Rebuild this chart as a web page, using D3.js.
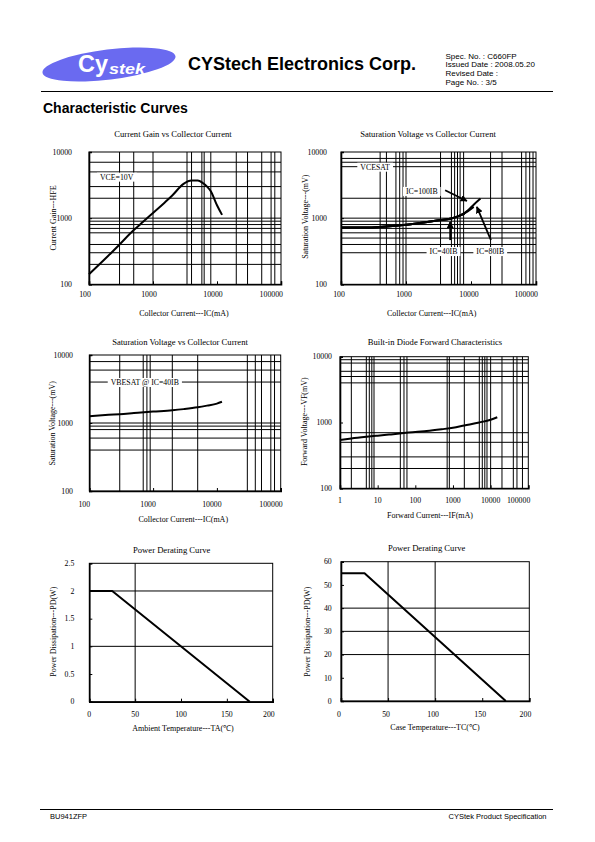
<!DOCTYPE html>
<html><head><meta charset="utf-8">
<script src="https://cdn.jsdelivr.net/npm/d3@7"></script>
<style>body{margin:0;background:#fff}svg{display:block}</style>
</head><body>
<script>
// ---------------- DATA ----------------
// Chart 1: Current Gain vs Collector Current (VCE=10V)
const gainIC  = [100,200,300,500,700,1000,1500,2000,3000,4000,5000,6000,7000,8000,10000,12000];
const gainHFE = [142,270,400,660,880,1200,1700,2200,3300,3700,3700,3400,3000,2550,1570,1120];

// Chart 2: VCE(sat) vs IC
const sat40IC  = [100,200,300,500,1000,2000,3000,5000,7000,8000];
const sat40V   = [720,720,725,745,795,870,920,990,1110,1170];
const sat80IC  = [100,200,300,500,1000,2000,3000,5000,7000,9000,11000];
const sat80V   = [720,720,725,745,795,870,920,990,1110,1280,1480];
const sat100IC = [100,200,300,500,1000,2000,3000,5000,7000,9000,11000,14000];
const sat100V  = [720,720,725,745,795,870,920,990,1110,1320,1600,1980];

// Chart 3: VBE(sat) @ IC=40IB
const vbeIC = [100,200,300,500,1000,2000,3000,5000,7000,10000,12000];
const vbeV  = [1260,1320,1350,1400,1470,1540,1600,1700,1800,1930,2050];

// Chart 4: Built-in diode forward characteristics
const diodeIF = [1,2,5,10,20,50,100,200,500,1000,2000,5000,10000,15000];
const diodeVF = [540,570,605,630,655,690,720,745,790,830,900,1000,1100,1200];

// Chart 5/6: Power derating
const taTemp = [0,25,175];
const taPD   = [2,2,0];
const tcTemp = [0,25,175];
const tcPD   = [55,55,0];

// Tick values / labels
const logTicks3 = [100,1000,10000,100000];
const logTicks5 = [1,10,100,1000,10000,100000];
const logYTicks = [100,1000,10000];
const tempTicks = [0,50,100,150,200];
const pdTaTicks = [0,0.5,1,1.5,2,2.5];
const pdTcTicks = [0,10,20,30,40,50,60];

// Gridlines (as seen in the reference)
const grid1X = [300,500,1000,3400,4000,5800,6300,8000,20000,30000,50000,70000,80000];
const grid1Y = [200,300,400,600,700,800,900,1000,2000,3000,5000,7000];
const grid2X = [400,500,700,800,900,1000,3400,5000,5600,6200,6800,7700,20000,30000,60000,70000,80000,90000];
const grid2Y = [300,400,500,600,700,800,900,1000,2000,6000,7000,8000];
const grid3X = [300,700,800,900,2000,5000,30000,40000,50000,70000,80000];
const grid3Y = [400,600,800,900,1000,4000,6000,8000];
const grid4X = [2,5,6,7,8,40,50,60,700,800,2000,5000,6000,7000,8000,10000,20000,40000,50000,70000];
const grid4Y = [200,300,500,700,4000,5000,6000,8000,9000];
const grid5X = [50];
const grid5Y = [1,2];
const grid6X = [50,100];
const grid6Y = [20,30,40];

// Annotations (data coordinates)
const notes1 = [{t:"VCE=10V", x:271, y:4200}];
const notes2 = [{t:"VCESAT", x:334, y:5940},{t:"IC=100IB", x:1750, y:2555},{t:"IC=40IB", x:3770, y:315},{t:"IC=80IB", x:19770, y:315}];
const arrows2 = [{x1:4000,y1:2640,x2:8650,y2:1820},{x1:4780,y1:466,x2:4780,y2:880},{x1:20270,y1:466,x2:12300,y2:1480}];
const notes3 = [{t:"VBESAT @ IC=40IB", x:742, y:3970}];

// ---------------- DRAW ----------------
const SERIF = '"Liberation Serif","Times New Roman",serif';
const SANS = '"Liberation Sans",Arial,sans-serif';
const svg = d3.select('body').append('svg').attr('width',595).attr('height',842);

const defs = svg.append('defs');
defs.append('marker').attr('id','arr').attr('viewBox','0 0 10 10').attr('refX',9).attr('refY',5)
  .attr('markerWidth',7).attr('markerHeight',7).attr('markerUnits','userSpaceOnUse').attr('orient','auto')
  .append('path').attr('d','M0,0L10,5L0,10z').attr('fill','#000');

// Header
svg.append('ellipse').attr('cx',109).attr('cy',64.5).attr('rx',67).attr('ry',15)
  .attr('transform','rotate(-7,109,64.5)').attr('fill','#6a6af0');
svg.append('text').attr('x',78).attr('y',72).attr('fill','#fff').attr('font-family',SANS)
  .attr('font-weight','bold').attr('font-size',23).attr('textLength',30).attr('lengthAdjust','spacingAndGlyphs').text('Cy');
svg.append('text').attr('x',109).attr('y',74).attr('fill','#fff').attr('font-family',SANS)
  .attr('font-weight','bold').attr('font-style','italic').attr('font-size',14).attr('textLength',36).attr('lengthAdjust','spacingAndGlyphs').text('stek');
svg.append('text').attr('x',188).attr('y',69.5).attr('font-family',SANS).attr('font-weight','bold')
  .attr('font-size',18).text('CYStech Electronics Corp.');
const spec = ['Spec. No. : C660FP','Issued Date : 2008.05.20','Revised Date :','Page No. : 3/5'];
svg.selectAll('.spec').data(spec).join('text').attr('x',445.5).attr('y',(d,i)=>58.5+i*8.8)
  .attr('font-family',SANS).attr('font-size',8).text(d=>d);
svg.append('line').attr('x1',41).attr('x2',553).attr('y1',91.5).attr('y2',91.5).attr('stroke','#000').attr('stroke-width',1);
svg.append('text').attr('x',43).attr('y',112.5).attr('font-family',SANS).attr('font-weight','bold')
  .attr('font-size',14).text('Characteristic Curves');

// Footer
svg.append('line').attr('x1',40).attr('x2',553).attr('y1',809.5).attr('y2',809.5).attr('stroke','#000').attr('stroke-width',1);
svg.append('text').attr('x',50).attr('y',818.5).attr('font-family',SANS).attr('font-size',7.5).text('BU941ZFP');
svg.append('text').attr('x',546.5).attr('y',818.5).attr('text-anchor','end').attr('font-family',SANS).attr('font-size',7.5).text('CYStek Product Specification');

function fmt(d){ return String(d); }

function chart(c){
  const g = svg.append('g');
  const x = (c.xLog ? d3.scaleLog() : d3.scaleLinear()).domain(c.xDomain).range([c.x0,c.x1]);
  const y = (c.yLog ? d3.scaleLog() : d3.scaleLinear()).domain(c.yDomain).range([c.y1,c.y0]);
  // grid
  g.selectAll('.gx').data(c.xGrid).join('line')
    .attr('x1',d=>x(d)).attr('x2',d=>x(d)).attr('y1',c.y0).attr('y2',c.y1)
    .attr('stroke','#000').attr('stroke-width',1);
  g.selectAll('.gy').data(c.yGrid).join('line')
    .attr('y1',d=>y(d)).attr('y2',d=>y(d)).attr('x1',c.x0).attr('x2',c.x1)
    .attr('stroke','#000').attr('stroke-width',1);
  // frame
  g.append('rect').attr('x',c.x0).attr('y',c.y0).attr('width',c.x1-c.x0).attr('height',c.y1-c.y0)
    .attr('fill','none').attr('stroke','#000').attr('stroke-width',1);
  // axes with inside ticks
  g.append('g').attr('transform',`translate(0,${c.y1})`)
    .call(d3.axisBottom(x).tickValues(c.xTicks).tickSize(-3).tickFormat(''))
    .call(a=>{a.select('.domain').attr('stroke-width',1.6);});
  g.append('g').attr('transform',`translate(${c.x0},0)`)
    .call(d3.axisLeft(y).tickValues(c.yTicks).tickSize(-3).tickFormat(''))
    .call(a=>{a.select('.domain').attr('stroke-width',1.6);});
  // tick labels
  const n = c.xTicks.length;
  g.selectAll('.xl').data(c.xTicks).join('text')
    .attr('x',(d,i)=> i===n-1 ? c.x1+2 : x(d)+c.xDx)
    .attr('y',c.xLabelY).attr('dy','0.35em')
    .attr('text-anchor',(d,i)=> i===n-1 ? 'end':'middle')
    .attr('font-family',SERIF).attr('font-size',7.8).text(fmt);
  g.selectAll('.yl').data(c.yTicks).join('text')
    .attr('x',c.yLabelX).attr('y',d=>y(d)).attr('dy','0.35em').attr('text-anchor','end')
    .attr('font-family',SERIF).attr('font-size',7.8).text(fmt);
  // titles
  g.append('text').attr('x',c.title[1]).attr('y',c.title[2]).attr('dy','0.35em').attr('text-anchor','middle')
    .attr('font-family',SERIF).attr('font-size',8.6).text(c.title[0]);
  g.append('text').attr('x',c.xTitle[1]).attr('y',c.xTitle[2]).attr('dy','0.35em').attr('text-anchor','middle')
    .attr('font-family',SERIF).attr('font-size',8).text(c.xTitle[0]);
  g.append('text').attr('transform',`translate(${c.yTitle[1]},${c.yTitle[2]}) rotate(-90)`).attr('dy','0.35em')
    .attr('text-anchor','middle').attr('font-family',SERIF).attr('font-size',8).text(c.yTitle[0]);
  // series
  const line = d3.line().x(d=>x(d[0])).y(d=>y(d[1])).curve(c.smooth ? d3.curveMonotoneX : d3.curveLinear);
  c.series.forEach(s=>{
    g.append('path').attr('d',line(d3.zip(s[0],s[1]))).attr('fill','none')
      .attr('stroke','#000').attr('stroke-width',2).attr('stroke-linejoin','round');
  });
  // arrows
  (c.arrows||[]).forEach(a=>{
    g.append('line').attr('x1',x(a.x1)).attr('y1',y(a.y1)).attr('x2',x(a.x2)).attr('y2',y(a.y2))
      .attr('stroke','#000').attr('stroke-width',1.8).attr('marker-end','url(#arr)');
  });
  // notes with white backgrounds
  (c.notes||[]).forEach(nt=>{
    const t = g.append('text').attr('x',x(nt.x)).attr('y',y(nt.y)).attr('dy','0.35em').attr('text-anchor','middle')
      .attr('font-family',SERIF).attr('font-size',7.8).text(nt.t);
    const b = t.node().getBBox();
    g.insert('rect', ()=>t.node()).attr('x',b.x-3).attr('y',b.y).attr('width',b.width+6).attr('height',b.height)
      .attr('fill','#fff');
  });
}

chart({x0:89,x1:281,y0:152,y1:284.3,xLog:true,yLog:true,xDomain:[100,100000],yDomain:[100,10000],
  xGrid:grid1X,yGrid:grid1Y,xTicks:logTicks3,yTicks:logYTicks,xLabelY:294.3,yLabelX:72,xDx:-4,
  title:['Current Gain vs Collector Current',173,134],xTitle:['Collector Current---IC(mA)',184,313],
  yTitle:['Current Gain---HFE',52.7,218],smooth:true,series:[[gainIC,gainHFE]],notes:notes1});

chart({x0:341,x1:536,y0:152,y1:284.3,xLog:true,yLog:true,xDomain:[100,100000],yDomain:[100,10000],
  xGrid:grid2X,yGrid:grid2Y,xTicks:logTicks3,yTicks:logYTicks,xLabelY:294.3,yLabelX:327,xDx:-2,
  title:['Saturation Voltage vs Collector Current',428,134],xTitle:['Collector Current---IC(mA)',431.7,312.7],
  yTitle:['Saturation Voltage---(mV)',305,216.7],smooth:true,
  series:[[sat100IC,sat100V],[sat80IC,sat80V],[sat40IC,sat40V]],notes:notes2,arrows:arrows2});

chart({x0:89.3,x1:280.7,y0:355,y1:491,xLog:true,yLog:true,xDomain:[100,100000],yDomain:[100,10000],
  xGrid:grid3X,yGrid:grid3Y,xTicks:logTicks3,yTicks:logYTicks,xLabelY:504,yLabelX:73,xDx:-5,
  title:['Saturation Voltage vs Collector Current',180,341.7],xTitle:['Collector Current---IC(mA)',183.3,519],
  yTitle:['Saturation Voltage---(mV)',51.7,423.3],smooth:true,series:[[vbeIC,vbeV]],notes:notes3});

chart({x0:340,x1:528.3,y0:356.7,y1:488.3,xLog:true,yLog:true,xDomain:[1,100000],yDomain:[100,10000],
  xGrid:grid4X,yGrid:grid4Y,xTicks:logTicks5,yTicks:logYTicks,xLabelY:500.7,yLabelX:332,xDx:0,
  title:['Built-in Diode Forward Characteristics',435,341.7],xTitle:['Forward Current---IF(mA)',430,515],
  yTitle:['Forward Voltage---VF(mV)',304.3,421.7],smooth:true,series:[[diodeIF,diodeVF]]});

chart({x0:89.3,x1:272.7,y0:563.3,y1:701.7,xLog:false,yLog:false,xDomain:[0,200],yDomain:[0,2.5],
  xGrid:grid5X,yGrid:grid5Y,xTicks:tempTicks,yTicks:pdTaTicks,xLabelY:714,yLabelX:74.3,xDx:0,
  title:['Power Derating Curve',171.7,550],xTitle:['Ambient Temperature---TA(℃)',183,727.7],
  yTitle:['Power Dissipation---PD(W)',52.7,631.7],smooth:false,series:[[taTemp,taPD]]});

chart({x0:341,x1:529.3,y0:561.7,y1:701,xLog:false,yLog:false,xDomain:[0,200],yDomain:[0,60],
  xGrid:grid6X,yGrid:grid6Y,xTicks:tempTicks,yTicks:pdTcTicks,xLabelY:714,yLabelX:331.7,xDx:-2,
  title:['Power Derating Curve',426.7,548.3],xTitle:['Case Temperature---TC(℃)',435,727.3],
  yTitle:['Power Dissipation---PD(W)',306.7,631.7],smooth:false,series:[[tcTemp,tcPD]]});
</script>
</body></html>
